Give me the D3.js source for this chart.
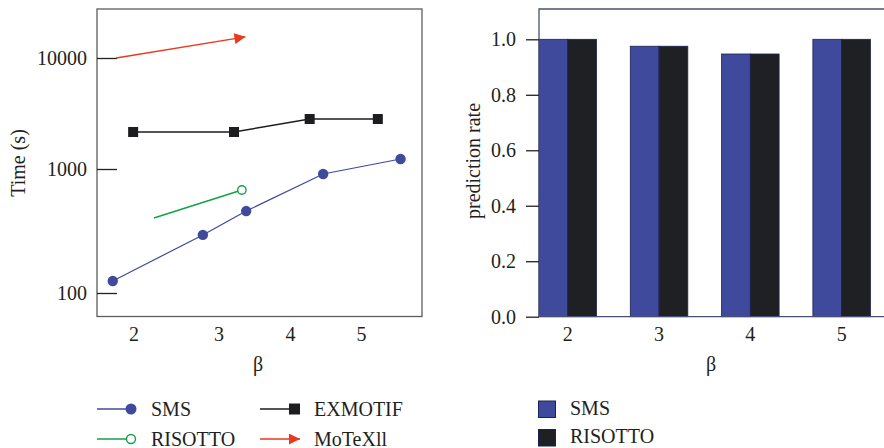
<!DOCTYPE html>
<html>
<head>
<meta charset="utf-8">
<script src="https://cdn.jsdelivr.net/npm/d3@7"></script>
<style>
  body { margin: 0; background: #fff; }
  svg { display: block; }
</style>
</head>
<body>
<svg id="chart" width="884" height="448"></svg>
<script>
// left panel: run time vs beta (log axis)
var smsBeta = [1.75, 2.81, 3.38, 4.46, 5.55];
var smsTime = [125, 294, 458, 912, 1230];
var exBeta = [1.99, 3.21, 4.27, 5.23];
var exTime = [2155, 2155, 2820, 2820];
var risBeta = [2.235, 3.32];
var risTime = [402, 677];
var motBeta = [1.79, 3.37];
var motTime = [10000, 15500];
var betaTicks = [2, 3, 4, 5];
var timeTicks = [100, 1000, 10000];

// right panel: prediction rate
var betaCats = ["2", "3", "4", "5"];
var smsRate = [1.0, 0.975, 0.947, 1.0];
var risRate = [1.0, 0.975, 0.947, 1.0];
var rateTicks = [0.0, 0.2, 0.4, 0.6, 0.8, 1.0];

var fs = "20px";
var ff = "'Liberation Serif', 'Times New Roman', serif";
var ink = "#231f20";
var blue = "#3f4a9c", black = "#1d1d1f", green = "#16a04a", red = "#e8391f";

var svg = d3.select("#chart");

function label(sel){
  return sel.style("font-family", ff).style("font-size", fs).style("fill", ink);
}

// ---------- left panel ----------
var xL = d3.scaleLinear().domain([2, 3, 4, 5]).range([134, 219, 290.5, 361.5]);
var yL = d3.scaleLog().domain([100, 1000, 10000]).range([293, 169, 58]);

svg.append("rect")
  .attr("x", 97).attr("y", 9).attr("width", 325).attr("height", 307.5)
  .attr("fill", "none").attr("stroke", "#5c5c5c").attr("stroke-width", 1.3);

var yAxisL = d3.axisLeft(yL).tickValues(timeTicks).tickFormat(d3.format("d"))
  .tickSize(-20).tickPadding(30);
var gy = svg.append("g").attr("transform", "translate(97,0)").call(yAxisL);
gy.select(".domain").remove();
gy.selectAll(".tick line").attr("stroke", ink).attr("stroke-width", 1.3);
label(gy.selectAll(".tick text").attr("x", -10));

label(svg.selectAll(".xlabL")
  .data(betaTicks)
  .enter()
  .append("text")
  .attr("class", "xlabL")
  .attr("x", function(d){ return xL(d); })
  .attr("y", 341)
  .attr("text-anchor", "middle")
  .text(function(d){ return d; }));

label(svg.append("text")
  .attr("x", 258).attr("y", 371).attr("text-anchor", "middle")
  .text("β"));

label(svg.append("text")
  .attr("transform", "translate(25,163) rotate(-90)")
  .attr("text-anchor", "middle").text("Time (s)"));

var line = d3.line()
  .x(function(d){ return xL(d[0]); })
  .y(function(d){ return yL(d[1]); });

svg.append("defs").append("marker")
  .attr("id", "arrow").attr("viewBox", "0 0 10 10")
  .attr("refX", 10).attr("refY", 5)
  .attr("markerWidth", 12).attr("markerHeight", 11)
  .attr("markerUnits", "userSpaceOnUse")
  .attr("orient", "auto")
  .append("path").attr("d", "M0,0L10,5L0,10Z").attr("fill", red);

// MoTeXll
svg.append("path")
  .datum(d3.zip(motBeta, motTime))
  .attr("d", line).attr("fill", "none").attr("stroke", red)
  .attr("stroke-width", 1.5).attr("marker-end", "url(#arrow)");

// EXMOTIF
var exData = d3.zip(exBeta, exTime);
svg.append("path").datum(exData).attr("d", line)
  .attr("fill", "none").attr("stroke", black).attr("stroke-width", 1.5);
svg.selectAll(".exsq")
  .data(exData)
  .enter()
  .append("rect")
  .attr("class", "exsq")
  .attr("x", function(d){ return xL(d[0]) - 5; })
  .attr("y", function(d){ return yL(d[1]) - 5; })
  .attr("width", 10).attr("height", 10)
  .attr("fill", black);

// RISOTTO
var risData = d3.zip(risBeta, risTime);
svg.append("path").datum(risData).attr("d", line)
  .attr("fill", "none").attr("stroke", green).attr("stroke-width", 1.5);
svg.append("circle")
  .datum(risData[risData.length - 1])
  .attr("cx", function(d){ return xL(d[0]); })
  .attr("cy", function(d){ return yL(d[1]); })
  .attr("r", 4.2).attr("fill", "#fff").attr("stroke", green).attr("stroke-width", 1.4);

// SMS
var smsData = d3.zip(smsBeta, smsTime);
svg.append("path").datum(smsData).attr("d", line)
  .attr("fill", "none").attr("stroke", blue).attr("stroke-width", 1.2);
svg.selectAll(".smsdot")
  .data(smsData)
  .enter()
  .append("circle")
  .attr("class", "smsdot")
  .attr("cx", function(d){ return xL(d[0]); })
  .attr("cy", function(d){ return yL(d[1]); })
  .attr("r", 5.2)
  .attr("fill", blue);

// ---------- right panel ----------
var xR = d3.scaleBand().domain(betaCats).range([539, 870.4]).paddingInner(0.37).paddingOuter(0);
var xSub = d3.scaleBand().domain(["SMS", "RISOTTO"]).range([0, xR.bandwidth()]);
var yR = d3.scaleLinear().domain([0, 1]).range([316.7, 39.3]);

var barData = [];
betaCats.forEach(function(c, i){
  barData.push({cat: c, key: "SMS", v: smsRate[i], fill: blue});
  barData.push({cat: c, key: "RISOTTO", v: risRate[i], fill: "#1f2024"});
});

svg.selectAll(".bar")
  .data(barData)
  .enter()
  .append("rect")
  .attr("class", "bar")
  .attr("x", function(d){ return xR(d.cat) + xSub(d.key); })
  .attr("width", xSub.bandwidth())
  .attr("y", function(d){ return yR(d.v); })
  .attr("height", function(d){ return yR(0) - yR(d.v); })
  .attr("fill", function(d){ return d.fill; })
  .attr("stroke", "#1b2250").attr("stroke-width", 0.8);

svg.append("path")
  .attr("d", "M900,9H539V316.7H900")
  .attr("fill", "none").attr("stroke", "#4a5072").attr("stroke-width", 1.3);

var yAxisR = d3.axisLeft(yR).tickValues(rateTicks).tickFormat(d3.format(".1f"))
  .tickSize(13).tickPadding(10);
var gyr = svg.append("g").attr("transform", "translate(539,0)").call(yAxisR);
gyr.select(".domain").remove();
gyr.selectAll(".tick line").attr("stroke", ink).attr("stroke-width", 1.3);
label(gyr.selectAll(".tick text"));

label(svg.selectAll(".xlabR")
  .data(betaCats)
  .enter()
  .append("text")
  .attr("class", "xlabR")
  .attr("x", function(d){ return xR(d) + xR.bandwidth() / 2; })
  .attr("y", 341)
  .attr("text-anchor", "middle")
  .text(function(d){ return d; }));

label(svg.append("text")
  .attr("x", 711).attr("y", 371).attr("text-anchor", "middle")
  .text("β"));

label(svg.append("text")
  .attr("transform", "translate(480,161) rotate(-90)")
  .attr("text-anchor", "middle").text("prediction rate"));

// ---------- legends ----------
var lineLegend = [
  {name: "SMS", color: blue, mark: "dot", x: 97, y: 409},
  {name: "RISOTTO", color: green, mark: "open", x: 97, y: 439},
  {name: "EXMOTIF", color: black, mark: "square", x: 260, y: 409},
  {name: "MoTeXll", color: red, mark: "arrow", x: 260, y: 439}
];

lineLegend.forEach(function(d){
  var g = svg.append("g").attr("transform", "translate(" + d.x + "," + d.y + ")");
  if (d.mark === "arrow") {
    g.append("line").attr("x1", 0).attr("x2", 40).attr("y1", 0).attr("y2", 0)
      .attr("stroke", d.color).attr("stroke-width", 1.5).attr("marker-end", "url(#arrow)");
  } else {
    g.append("line").attr("x1", 0).attr("x2", 33).attr("y1", 0).attr("y2", 0)
      .attr("stroke", d.color).attr("stroke-width", 1.3);
  }
  if (d.mark === "dot") {
    g.append("circle").attr("cx", 34).attr("r", 5.5).attr("fill", d.color);
  } else if (d.mark === "open") {
    g.append("circle").attr("cx", 34).attr("r", 4.5).attr("fill", "#fff")
      .attr("stroke", d.color).attr("stroke-width", 1.4);
  } else if (d.mark === "square") {
    g.append("rect").attr("x", 29).attr("y", -5.5).attr("width", 11).attr("height", 11)
      .attr("fill", d.color);
  }
  label(g.append("text").attr("x", 54).attr("y", 6.5).text(d.name));
});

var barLegend = [
  {name: "SMS", color: blue, y: 401},
  {name: "RISOTTO", color: "#1f2024", y: 429.5}
];
barLegend.forEach(function(d){
  svg.append("rect").attr("x", 538.5).attr("y", d.y).attr("width", 17).attr("height", 16.5)
    .attr("fill", d.color).attr("stroke", "#1b2250").attr("stroke-width", 1);
  label(svg.append("text").attr("x", 570).attr("y", d.y + 13.5).text(d.name));
});
</script>
</body>
</html>
